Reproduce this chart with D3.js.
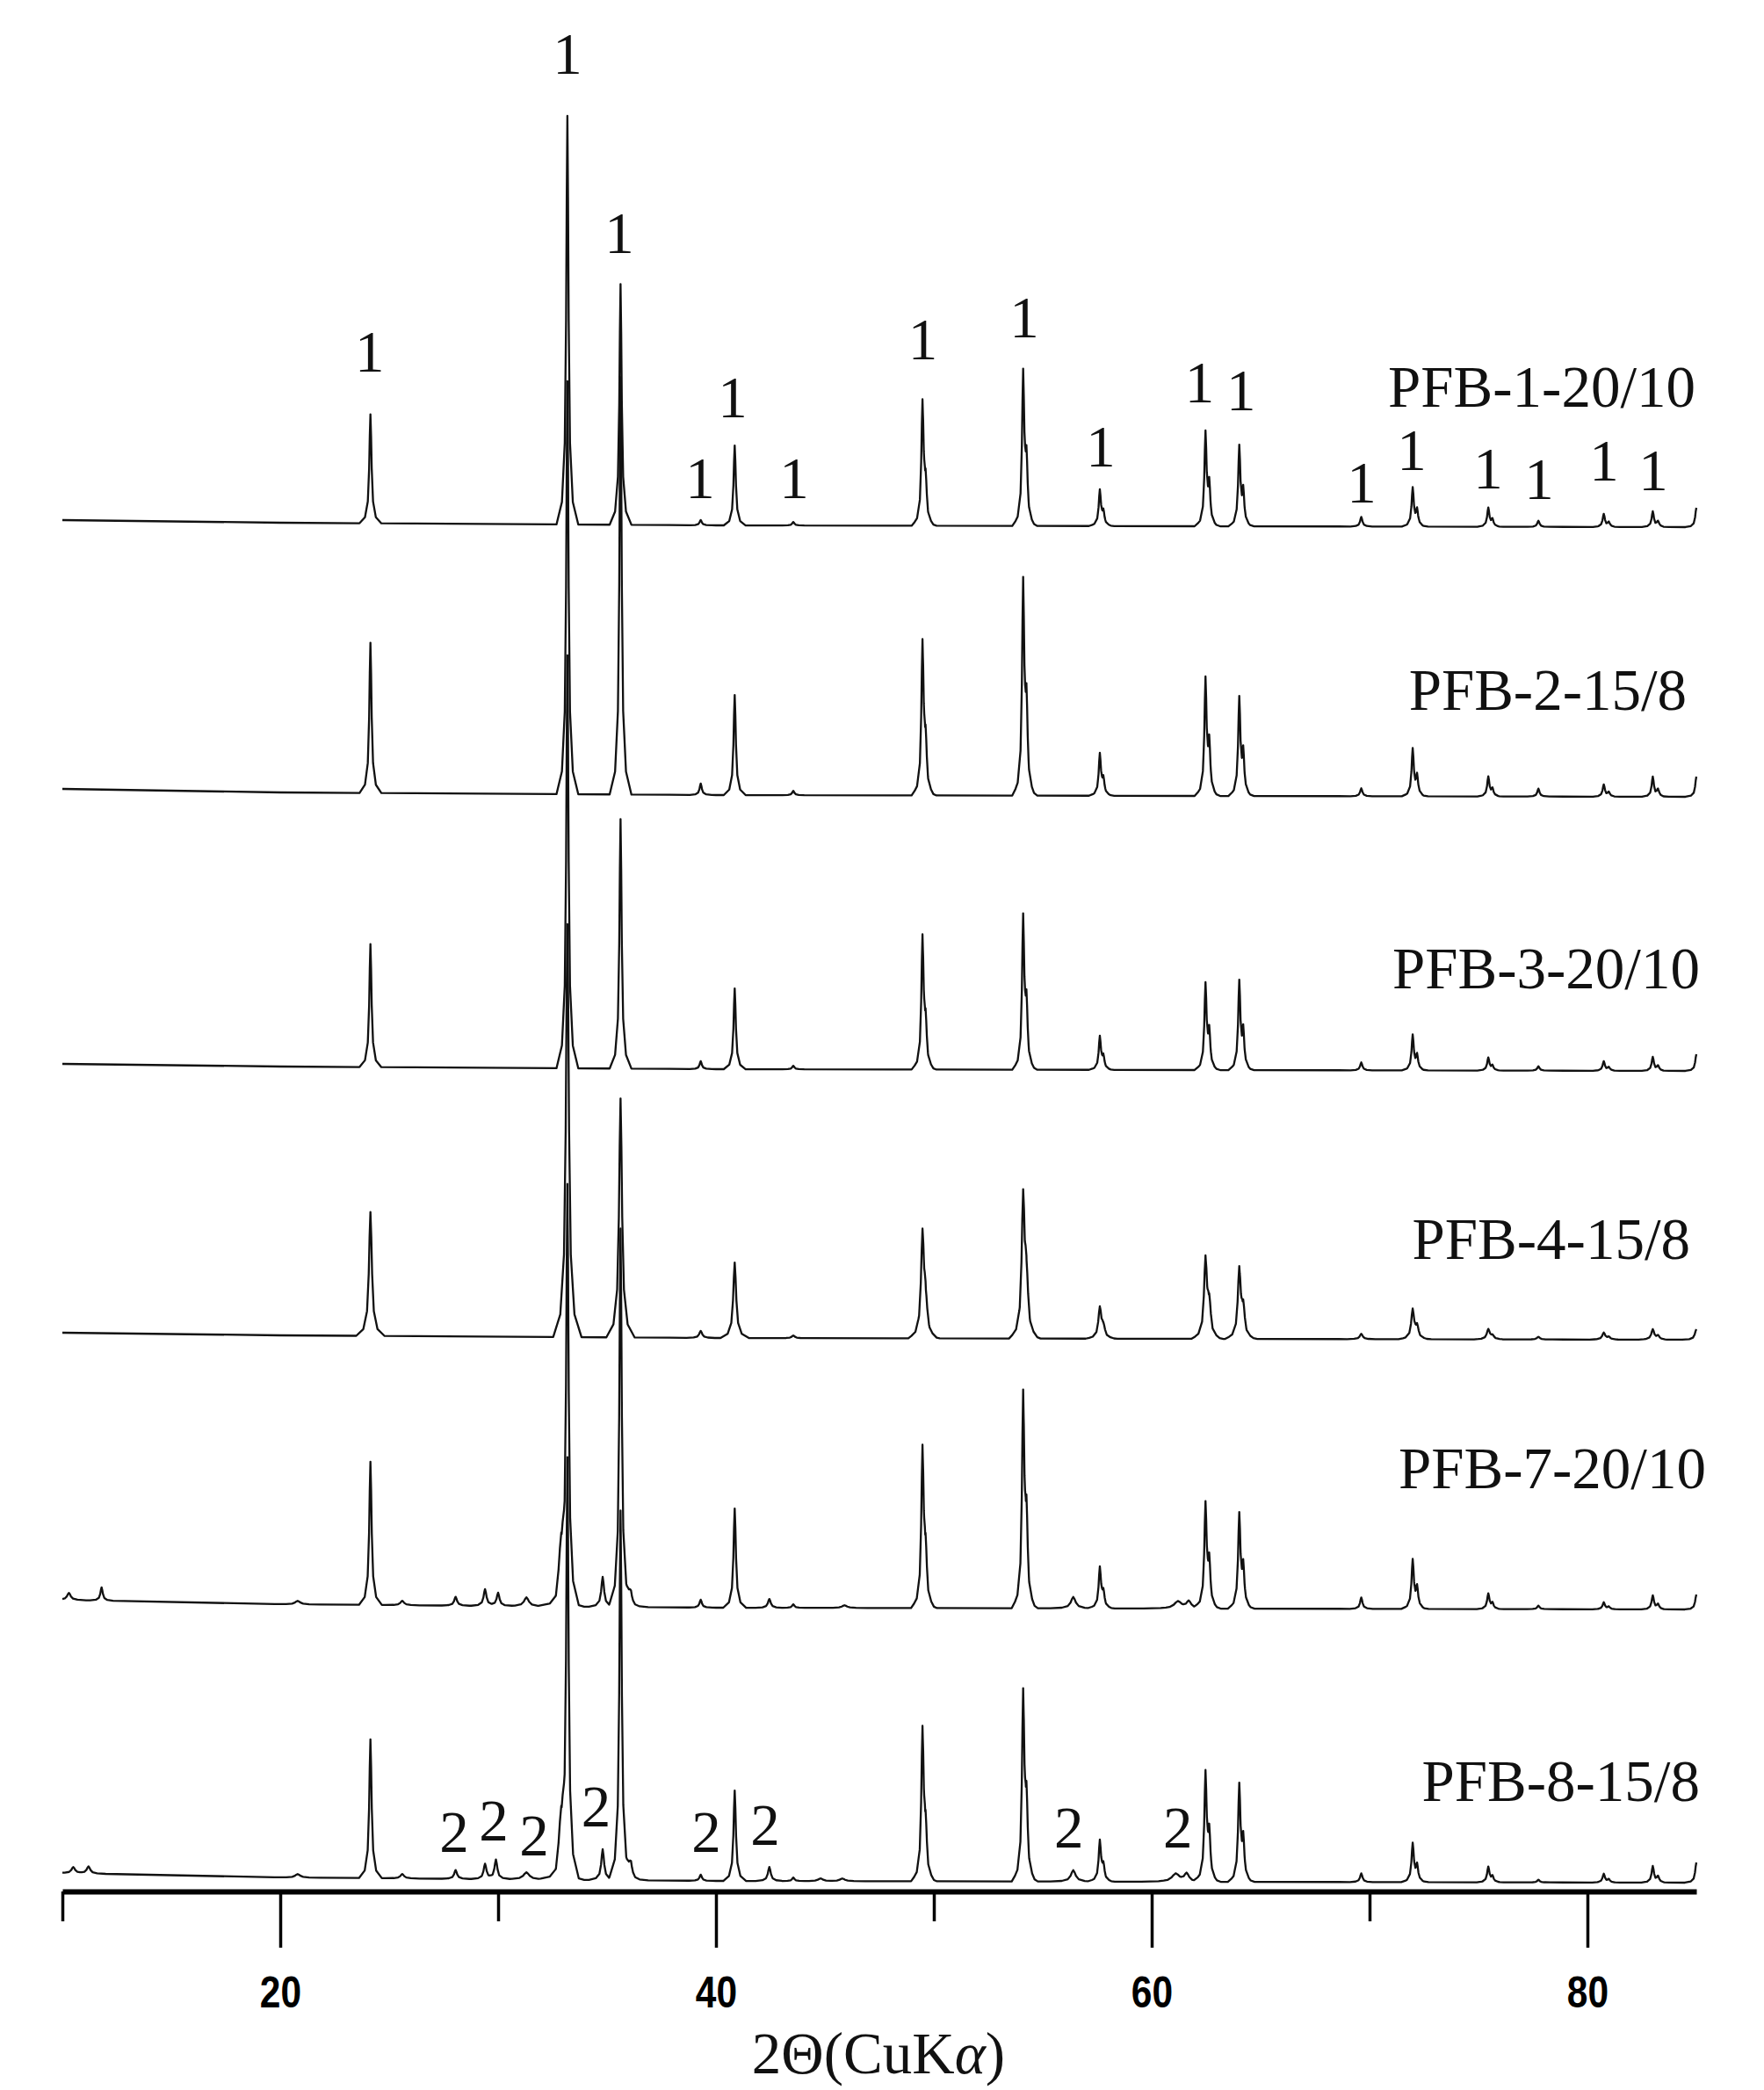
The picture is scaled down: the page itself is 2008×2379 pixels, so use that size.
<!DOCTYPE html>
<html>
<head>
<meta charset="utf-8">
<script src="https://cdn.jsdelivr.net/npm/d3@7"></script>
<style>
  html, body { margin: 0; padding: 0; background: #fff; }
  svg { display: block; }
</style>
</head>
<body>
<script>
// ---------------- DATA ----------------
const samples = ["PFB-1-20/10", "PFB-2-15/8", "PFB-3-20/10", "PFB-4-15/8", "PFB-7-20/10", "PFB-8-15/8"];
// vertical stacking offset of each pattern (a.u.)
const offsets = [1543, 1236, 924, 618, 311, 0];
// peak broadening factor per sample
const widthFactors = [1, 1, 1, 1.3, 1.05, 1.05];

// phase 1 reflections (2θ, degrees)
const phase1Pos = [24.14, 33.18, 35.62, 39.3, 40.86, 43.55, 49.48, 54.1, 57.62, 62.47, 64.02, 69.62, 71.98, 75.45, 77.75, 80.75, 83.0, 85.0];
// intensities of those reflections (a.u.)
const int1 = [124, 465, 274, 6, 91, 4, 144, 179, 42, 109, 93, 11, 45, 22, 7, 15, 18, 22];
const int2 = [171, 470, 475, 13, 114, 5, 178, 249, 49, 136, 114, 9, 55, 23, 9, 14, 23, 23];
const int3 = [140, 470, 284, 9, 92, 4, 154, 178, 39, 100, 103, 9, 41, 15, 5, 11, 16, 19];
const int4 = [141, 470, 272, 8, 86, 3, 125, 170, 37, 95, 83, 6, 35, 12, 3, 8, 12, 12];
const int7 = [163, 470, 430, 9, 113, 4, 186, 249, 48, 122, 110, 13, 57, 18, 4, 8, 16, 17];
const int8 = [158, 470, 420, 7, 103, 4, 177, 220, 48, 127, 113, 10, 45, 18, 3, 10, 19, 23];

// visible high-angle shoulders of phase-1 reflections: [index in phase1Pos, 2θ, fraction of that peak]
const shoulders = [[6, 49.62, 0.3], [7, 54.25, 0.38], [8, 57.78, 0.35], [9, 62.64, 0.4], [10, 64.2, 0.4],
                   [12, 72.18, 0.4], [13, 75.64, 0.35], [15, 80.98, 0.35], [16, 83.24, 0.35]];

// additional (phase 2 / minor) reflections: [2θ, intensity, width factor]
const extra7 = [[10.3, 8, 1.5], [11.8, 15, 1], [20.8, 4, 2], [25.6, 5, 1.5], [28.05, 10, 1.2], [29.4, 19, 1.2], [30.0, 15, 1.2],
                [31.3, 10, 2], [32.9, 60, 2], [34.8, 34, 1.2], [36.1, 15, 1.5], [42.45, 10, 1.2], [45.9, 3, 2],
                [56.4, 13, 2], [61.2, 8, 3], [61.7, 8, 2]];
const extra8 = [[10.5, 7, 1.5], [11.2, 8, 1.5], [20.8, 4, 2], [25.6, 5, 1.5], [28.05, 10, 1.2], [29.4, 17, 1.2], [29.9, 22, 1.2],
                [31.3, 8, 2.5], [32.9, 60, 2], [34.8, 35, 1.2], [36.1, 18, 1.5], [42.45, 16, 1.2], [44.8, 3, 2], [45.8, 3, 2],
                [56.4, 13, 2], [61.1, 9, 3], [61.6, 9, 2]];

// background level per sample at bgX
const bgX = [10, 20, 40, 85];
const bg1 = [6, 3, 0, -2];
const bg2 = [7, 3, 0, -2];
const bg3 = [6, 3, 0, -2];
const bg4 = [6, 3, 0, -2];
const bg7 = [9, 4, 0, -2];
const bg8 = [9, 4, 0, -2];

// sample name labels: right edge (2θ) and lift above the pattern baseline (a.u.)
const nameRight = [84.96, 84.56, 85.16, 84.72, 85.44, 85.16];
const nameLift = [135, 97, 92, 90, 136, 91];

// phase markers "1" above PFB-1 pattern: 2θ and lift (a.u.)
const mark1Pos = [24.1, 33.19, 35.56, 39.27, 40.77, 43.59, 49.5, 54.15, 57.66, 62.2, 64.1, 69.64, 71.94, 75.44, 77.78, 80.77, 83.02];
const mark1Lift = [175, 514, 310, 31, 123, 31, 189, 214, 67, 140, 131, 26, 63, 42, 30, 51, 40];
// phase markers "2" above PFB-8 pattern
const mark2Pos = [27.98, 29.8, 31.65, 34.5, 39.56, 42.26, 56.2, 61.2];
const mark2Lift = [33, 46, 29, 62, 33, 41, 38, 38];

// axis
const xDomain = [10, 85];
const tickVals = [10, 20, 30, 40, 50, 60, 70, 80];
const labelledTicks = [20, 40, 60, 80];

// peak profile template (offset in degrees, fraction of peak height)
const tmplOff = [-0.5, -0.25, -0.12, -0.06, -0.03, 0, 0.03, 0.06, 0.12, 0.25, 0.5];
const tmplFrac = [0, 0.055, 0.2, 0.5, 0.8, 1, 0.8, 0.5, 0.2, 0.055, 0];

// ---------------- CHART ----------------
const W = 2008, H = 2379;
const svg = d3.select("body").append("svg").attr("width", W).attr("height", H);
svg.append("rect").attr("width", W).attr("height", H).attr("fill", "#fff");

const x = d3.scaleLinear().domain(xDomain).range([71, 1931]);
const y = d3.scaleLinear().domain([0, 2141]).range([2141, 0]);
const tmpl = d3.scaleLinear().domain(tmplOff).range(tmplFrac).clamp(true);

const ints = [int1, int2, int3, int4, int7, int8];
const extras = [[], [], [], [], extra7, extra8];
const bgs = [bg1, bg2, bg3, bg4, bg7, bg8];

function buildPattern(i) {
  const wf = widthFactors[i];
  // keep the apex at the read value when a shoulder overlaps the peak
  const main = phase1Pos.map((p, k) => {
    const s = shoulders.find(t => t[0] === k);
    const norm = s ? 1 + s[2] * tmpl((s[1] - p) / wf) : 1;
    return [p, ints[i][k] / norm, wf];
  });
  const sh = shoulders.map(s => {
    const p = phase1Pos[s[0]];
    const norm = 1 + s[2] * tmpl((s[1] - p) / wf);
    return [s[1], ints[i][s[0]] * s[2] / norm, wf];
  });
  const peaks = main.concat(sh).concat(extras[i].map(e => [e[0], e[1], e[2] * wf]));
  const bg = d3.scaleLinear().domain(bgX).range(bgs[i]);
  let xs = [xDomain[0], xDomain[1]].concat(bgX);
  peaks.forEach(pk => tmplOff.forEach(o => xs.push(pk[0] + o * pk[2])));
  xs = Array.from(new Set(xs.map(v => +v.toFixed(4)))).filter(v => v >= xDomain[0] && v <= xDomain[1]).sort((a, b) => a - b);
  return xs.map(v => {
    let val = bg(v);
    peaks.forEach(pk => { val += pk[1] * tmpl((v - pk[0]) / pk[2]); });
    return [v, val];
  });
}

const serif = "'Liberation Serif', 'Times New Roman', Times, serif";
const g = svg.append("g");
samples.forEach((name, i) => {
  const pts = buildPattern(i);
  const line = d3.line().x(d => x(d[0])).y(d => y(d[1] + offsets[i]));
  g.append("path").datum(pts)
    .attr("d", line)
    .attr("fill", "none")
    .attr("stroke", "#111")
    .attr("stroke-width", 2.3)
    .attr("stroke-linejoin", "round");

  g.append("text")
    .attr("x", x(nameRight[i]))
    .attr("y", y(offsets[i] + nameLift[i]))
    .attr("text-anchor", "end")
    .attr("font-family", serif)
    .attr("font-size", 67)
    .attr("fill", "#111")
    .text(name);
});

// phase markers
svg.append("g").selectAll("text").data(mark1Pos).join("text")
  .attr("x", d => x(d))
  .attr("y", (d, k) => y(offsets[0] + mark1Lift[k]))
  .attr("text-anchor", "middle")
  .attr("font-family", serif).attr("font-size", 67).attr("fill", "#111")
  .text("1");
svg.append("g").selectAll("text").data(mark2Pos).join("text")
  .attr("x", d => x(d))
  .attr("y", (d, k) => y(offsets[5] + mark2Lift[k]))
  .attr("text-anchor", "middle")
  .attr("font-family", serif).attr("font-size", 67).attr("fill", "#111")
  .text("2");

// x axis
const axis = d3.axisBottom(x).tickValues(tickVals).tickSizeInner(64).tickSizeOuter(0)
  .tickFormat(d => labelledTicks.includes(d) ? d : "");
const ax = svg.append("g").attr("transform", "translate(0,2153)").call(axis);
ax.select(".domain").attr("stroke", "#000").attr("stroke-width", 6);
ax.selectAll(".tick line").attr("stroke", "#000").attr("stroke-width", 3.5)
  .attr("y2", d => labelledTicks.includes(d) ? 64 : 34);
ax.selectAll(".tick text")
  .attr("y", 0).attr("dy", 0)
  .attr("transform", "translate(0,132) scale(0.85,1)")
  .attr("font-family", "'Liberation Sans', Arial, sans-serif")
  .attr("font-weight", "bold")
  .attr("font-size", 50)
  .attr("fill", "#000");

// axis title
const title = svg.append("text")
  .attr("x", 1000).attr("y", 2360)
  .attr("text-anchor", "middle")
  .attr("font-family", serif).attr("font-size", 67).attr("fill", "#111");
title.append("tspan").text("2Θ(CuK");
title.append("tspan").attr("font-style", "italic").text("α");
title.append("tspan").text(")");
</script>
</body>
</html>
